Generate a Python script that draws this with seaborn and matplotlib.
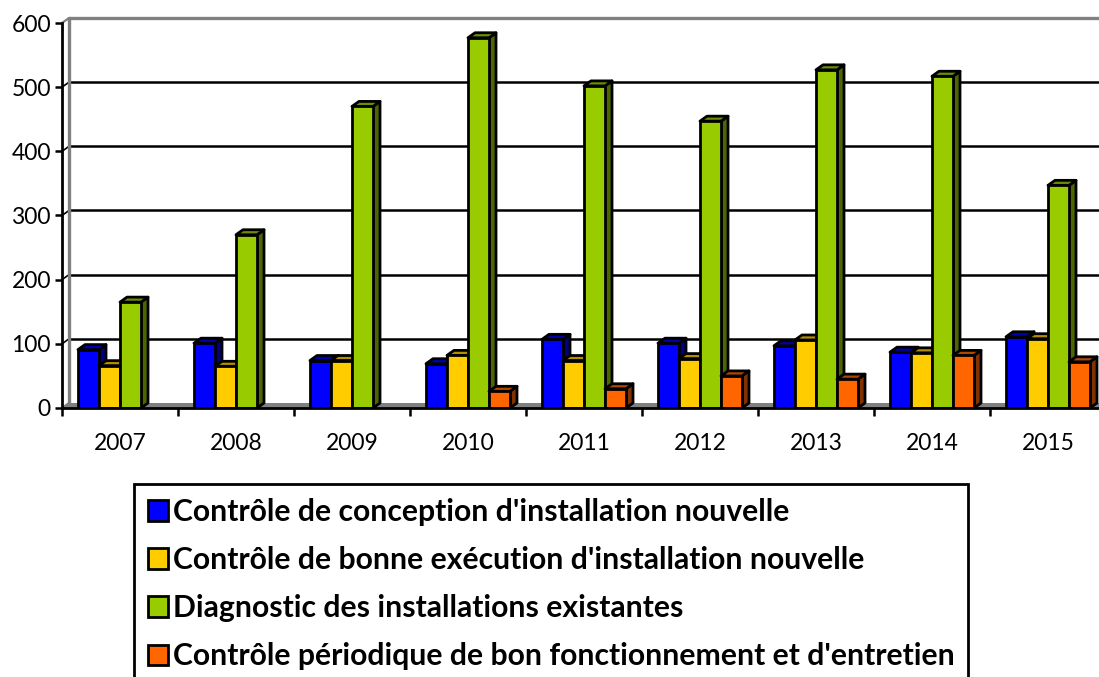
import pandas as pd
import matplotlib.pyplot as plt
import matplotlib.patches as mpatches
import seaborn as sns

years = ['2007', '2008', '2009', '2010', '2011', '2012', '2013', '2014', '2015']
conception = [91, 101, 74, 69, 107, 101, 97, 87, 111]
execution = [66, 65, 74, 82, 74, 77, 106, 86, 108]
diagnostic = [165, 270, 470, 577, 502, 447, 527, 517, 347]
periodique = [0, 0, 0, 26, 30, 50, 45, 82, 72]

names = ["Contrôle de conception d'installation nouvelle",
         "Contrôle de bonne exécution d'installation nouvelle",
         "Diagnostic des installations existantes",
         "Contrôle périodique de bon fonctionnement et d'entretien"]
colors = ['#0000FF', '#FFCC00', '#99CC00', '#FF6600']
tops = ['#0000B0', '#B38F00', '#6B8F00', '#B34700']
sides = ['#000080', '#806600', '#4D6600', '#803300']

df = pd.DataFrame({'annee': years, names[0]: conception, names[1]: execution,
                   names[2]: diagnostic, names[3]: periodique})
df = df.melt(id_vars='annee', var_name='type', value_name='nombre')

sns.set_theme(style='white')
plt.rcParams['font.family'] = ['Lato', 'DejaVu Sans']
plt.rcParams['text.color'] = 'black'

W, H = 1099, 677
fig = plt.figure(figsize=(W / 100, H / 100), dpi=100)
ax = fig.add_axes([62 / W, 1 - 408 / H, 1044 / W, 385 / H])

sns.barplot(data=df, x='annee', y='nombre', hue='type', hue_order=names,
            palette=colors, width=84 / 116, saturation=1, gap=0,
            edgecolor='black', linewidth=2, ax=ax)

ax.set_xlim(-0.5, 8.5)
ax.set_ylim(0, 600)
ax.set_xlabel('')
ax.set_ylabel('')

# profondeur du faux 3D, en unites de donnees
dx = 7 / 116
dy = 5 / 385 * 600

# murs et grille
ax.add_patch(mpatches.Polygon([(-0.5, 0), (-0.5 + dx, dy), (8.5 + dx, dy), (8.5, 0)],
                              facecolor='#808080', edgecolor='none', zorder=1, clip_on=False))
for v in [100, 200, 300, 400, 500]:
    ax.plot([-0.5 + dx, 8.5 + dx], [v + dy, v + dy], color='black', lw=1.8, zorder=1, clip_on=False)
    ax.plot([-0.5, -0.5 + dx], [v, v + dy], color='black', lw=1.2, zorder=1, clip_on=False)
ax.plot([-0.5 + dx, 8.5 + dx], [600 + dy, 600 + dy], color='#808080', lw=2.4, zorder=1, clip_on=False)
ax.plot([-0.5, -0.5 + dx], [600, 600 + dy], color='#808080', lw=1.6, zorder=1, clip_on=False)
ax.plot([-0.5 + dx, -0.5 + dx], [dy, 600 + dy], color='#808080', lw=2.4, zorder=1, clip_on=False)
ax.plot([-0.5, -0.5 + dx], [0, dy], color='#808080', lw=1.6, zorder=1, clip_on=False)

# faces laterales et dessus des barres
for i, cont in enumerate(ax.containers):
    for j, bar in enumerate(cont):
        if bar.get_height() == 0:
            bar.set_visible(False)
            continue
        z = 3 + j + i * 0.1
        x0 = bar.get_x()
        x1 = x0 + bar.get_width()
        h = bar.get_height()
        bar.set_zorder(z)
        ax.add_patch(mpatches.Polygon([(x1, 0), (x1 + dx, dy), (x1 + dx, h + dy), (x1, h)],
                                      facecolor=sides[i], edgecolor='black', lw=2,
                                      joinstyle='round', zorder=z - 0.01, clip_on=False))
        ax.add_patch(mpatches.Polygon([(x0, h), (x0 + dx, h + dy), (x1 + dx, h + dy), (x1, h)],
                                      facecolor=tops[i], edgecolor='black', lw=2,
                                      joinstyle='round', zorder=z - 0.01, clip_on=False))

# axes
for s in ['top', 'right']:
    ax.spines[s].set_visible(False)
for s in ['left', 'bottom']:
    ax.spines[s].set_color('black')
    ax.spines[s].set_linewidth(2)
    ax.spines[s].set_zorder(50)
ax.set_xticks([x - 0.5 for x in range(10)], labels=[])
ax.set_xticks(range(9), labels=years, minor=True)
ax.set_yticks([0, 100, 200, 300, 400, 500, 600])
ax.tick_params(axis='x', which='major', length=6, width=1.8, color='black', bottom=True)
ax.tick_params(axis='x', which='minor', length=0, labelsize=16.5, pad=18, labelcolor='black', bottom=False)
ax.tick_params(axis='y', length=5, width=1.8, color='black', left=True, labelsize=16.5, pad=3, labelcolor='black')

handles, labels = ax.get_legend_handles_labels()
leg = ax.legend(handles, labels, loc='upper left', bbox_to_anchor=(134 / W, 1 - 484 / H),
                bbox_transform=fig.transFigure, borderaxespad=0, fancybox=False,
                framealpha=1, edgecolor='black', prop={'weight': 'bold', 'size': 21.7},
                handlelength=0.68, handleheight=0.68, handletextpad=0.15,
                labelspacing=0.67, borderpad=0.46)
leg.get_frame().set_linewidth(2)
leg.set_zorder(100)
for h in leg.legend_handles:
    h.set_linewidth(2)

plt.savefig('out.png', dpi=100)
